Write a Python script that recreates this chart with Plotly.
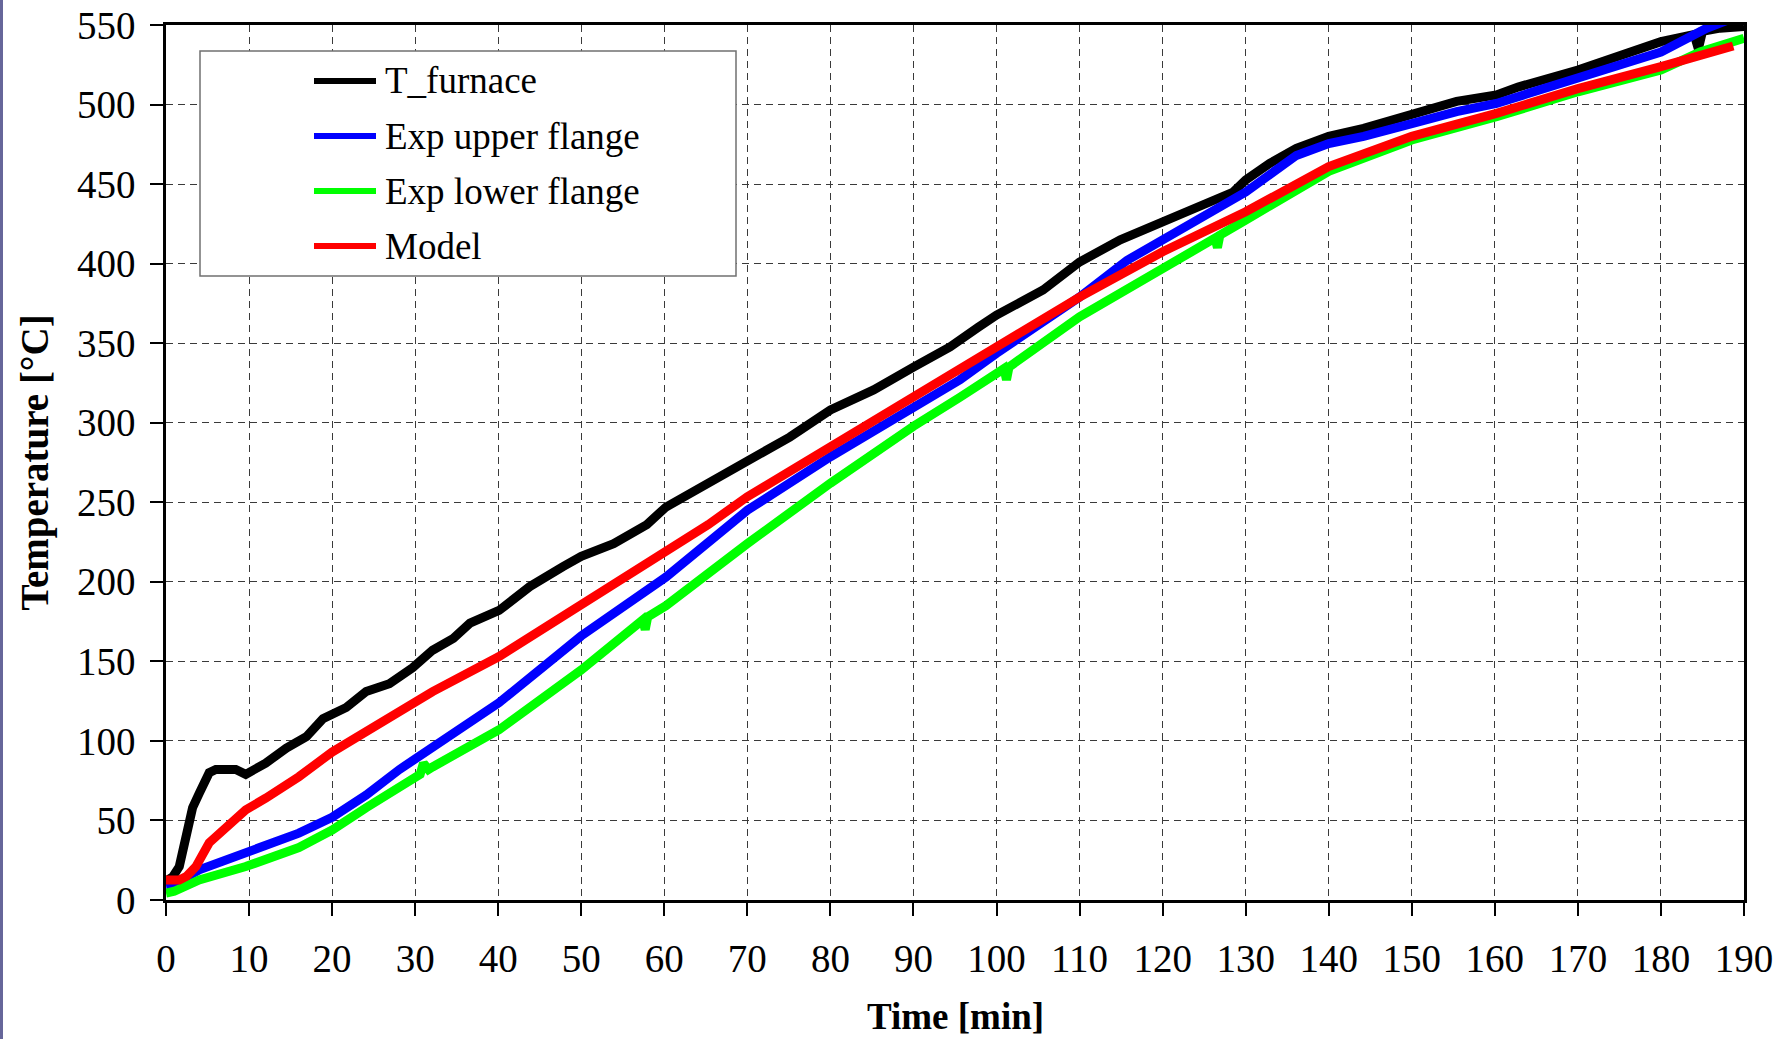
import plotly.graph_objects as go

# ---------------- data ----------------
furnace_time = [0, 0.8, 1.6, 2.4, 3.2, 4.0, 5.2, 6.0, 7.0, 8.4, 9.6, 12, 14.5, 16.9, 18.9,
                21.7, 24.1, 26.9, 29.7, 32.1, 34.6, 36.6, 40.1, 43.8, 47.8, 50, 53.9, 57.9,
                60.2, 62.7, 65.3, 70, 75.1, 80, 85.2, 90, 94.4, 97.8, 100, 105.6, 110, 114.9,
                120, 125.3, 128.5, 130, 132.9, 136.1, 140, 144.2, 150, 155.4, 160.2, 162.8,
                170, 176.7, 180, 184.0, 184.5, 185.0, 187.1, 190]
furnace_temp = [12, 14.5, 21, 42, 58, 67, 80, 82, 82, 82, 79, 86, 95.5, 102.6, 114,
                121, 131, 136, 146, 157, 164.5, 174, 182, 197, 209.5, 216, 224, 236,
                247, 254.6, 262, 275.5, 291, 308, 320.6, 335, 347.7, 360, 367.7, 383.4, 401, 415,
                426, 438, 445, 452.5, 463, 472.5, 480, 485, 494.5, 502, 506, 511,
                521.7, 534, 539.5, 544, 535, 546, 548, 549]

upper_time = [0, 1, 4, 9.6, 16, 20, 24.1, 28.1, 30.6, 32.1, 40.1, 50, 60.2, 65.3, 70,
              80, 90, 95.6, 100, 110, 115.7, 120, 125.3, 128.1, 130, 132.9, 136.1, 140, 144.2,
              150, 155.4, 160.2, 162.8, 170, 180, 185.5, 188]
upper_temp = [9.4, 10, 19, 29.5, 42, 52, 66, 82, 90, 96, 124, 166, 203, 224, 245,
              278.6, 310, 327, 343.6, 379, 402, 415, 430.5, 438, 445, 456, 468, 475.5, 480,
              488, 495.5, 500.7, 505, 516.5, 533, 548, 553]

lower_time = [0, 1, 4, 9.6, 16, 20, 24.1, 28.1, 30.6, 31.0, 31.6, 32.1, 40.1, 50, 57.4, 57.7,
              58.0, 60.2, 70, 80, 90, 95.6, 100, 100.9, 101.2, 101.5, 110, 120,
              126.3, 126.6, 126.9, 130, 140, 150, 160.2, 170, 180, 184.7, 190]
lower_temp = [4.4, 5.5, 12.6, 21, 33, 44, 58, 71, 79, 86, 82, 83.6, 107, 144.6, 176, 170,
              178, 185, 224, 262, 297.8, 316, 331, 334, 327, 335, 366.6, 396,
              416, 410, 418, 427.4, 458, 477.7, 492.3, 508, 521.7, 533, 541.6]

model_time = [0, 1.6, 2.5, 3.6, 5.2, 7.2, 9.6, 12, 16, 20, 24.1, 28.1, 32.1, 40.1, 50, 60.2,
              65.3, 70, 80, 90, 97.8, 100, 110, 120, 130, 140, 150, 160.2, 170, 180, 188.7]
model_temp = [12.6, 12.6, 15, 21, 36, 46, 56.6, 64, 77.5, 93, 106, 118, 131, 153, 185, 218,
              236, 253.5, 285, 316, 340.5, 347.8, 379, 407.5, 432.6, 461, 480, 494.5, 510, 523.8, 536.8]

series_names = ["T_furnace", "Exp upper flange", "Exp lower flange", "Model"]
series_colors = ["#000000", "#0000ff", "#00ff00", "#ff0000"]
series_x = [furnace_time, upper_time, lower_time, model_time]
series_y = [furnace_temp, upper_temp, lower_temp, model_temp]

x_ticks = list(range(0, 191, 10))
y_ticks = list(range(0, 551, 50))

# ---------------- figure ----------------
W, H = 1792, 1039
ML, MR, MT, MB = 166, 48, 25, 139
PW, PH = W - ML - MR, H - MT - MB
FONT = "Liberation Serif, Times New Roman, serif"


def fx(xp):
    return (xp - ML) / PW


def fy(yp):
    return (H - MB - yp) / PH


fig = go.Figure()
for name, xs, ys, col in zip(series_names, series_x, series_y, series_colors):
    fig.add_trace(go.Scatter(x=xs, y=ys, mode="lines", name=name,
                             line=dict(color=col, width=9), showlegend=False))

axis_common = dict(
    showline=True, linecolor="black", linewidth=2.5, mirror=True,
    ticks="outside", ticklen=13, tickwidth=1.5, tickcolor="black",
    showgrid=True, gridcolor="#3a3a3a", gridwidth=1.1, griddash="7px,5px",
    zeroline=False, automargin=False,
    tickfont=dict(family=FONT, size=39, color="black"),
)
fig.update_xaxes(range=[0, 190], tickvals=x_ticks, ticklabelstandoff=9, **axis_common)
fig.update_yaxes(range=[0, 550], tickvals=y_ticks, ticklabelstandoff=7, **axis_common)

shapes = [
    # legend box
    dict(type="rect", xref="paper", yref="paper", x0=fx(200), x1=fx(736), y0=fy(276), y1=fy(51),
         line=dict(color="#707070", width=1.5), fillcolor="white", layer="above"),
    # slate band on the far left edge
    dict(type="rect", xref="paper", yref="paper", x0=fx(0), x1=fx(3), y0=fy(H), y1=fy(0),
         line=dict(width=0), fillcolor="#66669a"),
]
annotations = []
row_y = [81, 136, 191, 246]
for name, col, yy in zip(series_names, series_colors, row_y):
    shapes.append(dict(type="line", xref="paper", yref="paper", x0=fx(314), x1=fx(376),
                       y0=fy(yy), y1=fy(yy), line=dict(color=col, width=6), layer="above"))
    annotations.append(dict(text=name, xref="paper", yref="paper", x=fx(383), y=fy(yy),
                            xanchor="left", yanchor="middle", showarrow=False,
                            font=dict(family=FONT, size=37, color="black")))

annotations.append(dict(text="<b>Time [min]</b>", xref="paper", yref="paper", x=fx(955), y=fy(1038),
                        xanchor="center", yanchor="bottom", showarrow=False, borderpad=0,
                        font=dict(family=FONT, size=37, color="black")))
annotations.append(dict(text="<b>Temperature [°C]</b>", xref="paper", yref="paper", x=fx(34), y=0.5,
                        xanchor="center", yanchor="middle", textangle=-90, showarrow=False,
                        font=dict(family=FONT, size=39, color="black")))

fig.update_layout(
    width=W, height=H,
    margin=dict(l=ML, r=MR, t=MT, b=MB, pad=0),
    paper_bgcolor="white", plot_bgcolor="white",
    font=dict(family=FONT, color="black"),
    showlegend=False,
    shapes=shapes, annotations=annotations,
)

fig.write_html("out.html")
